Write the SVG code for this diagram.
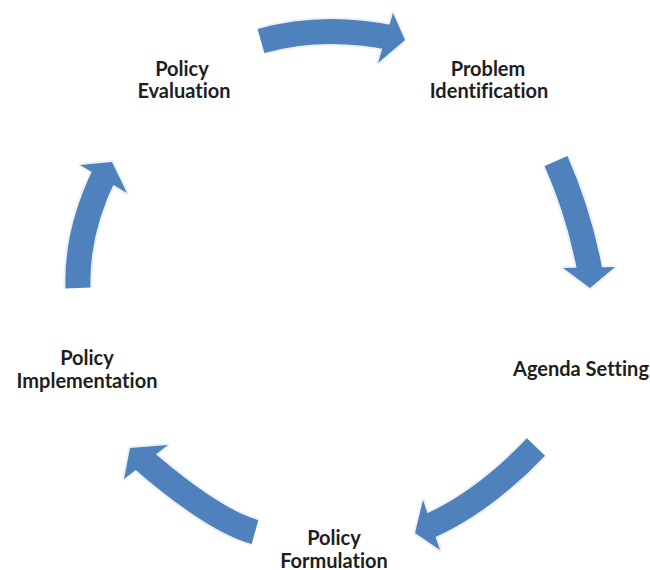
<svg xmlns="http://www.w3.org/2000/svg" width="650" height="570" viewBox="0 0 650 570">
  <style>
    .lbl { font-family: Lato, "Liberation Sans", Arial, sans-serif; font-weight: bold; font-size: 20px; fill: #1e1e1e; text-anchor: middle; font-variant-ligatures: none; }
    .body { fill: none; stroke: #4F81BD; stroke-width: 25; stroke-linecap: butt; }
    .head { fill: #4F81BD; }
    .halo { fill: none; stroke: #edf1f6; stroke-width: 29; stroke-linecap: butt; }
    .halohead { fill: #edf1f6; stroke: #edf1f6; stroke-width: 4; stroke-linejoin: round; }
  </style>
  <rect width="650" height="570" fill="#ffffff"/>

  <!-- curved arrows of the cycle -->
  <g id="connectors">
    <!-- Evaluation -> Problem Identification -->
    <g id="arrow-top">
      <path class="halo" d="M261,41 Q323,23.5 393,38"/>
      <polygon class="halohead" points="393,13 405,40 378,63"/>
      <path class="body" d="M261,41 Q323,23.5 393,38"/>
      <polygon class="head" points="393,13 405,40 378,63"/>
    </g>
    <!-- Problem Identification -> Agenda Setting -->
    <g id="arrow-right">
      <path class="halo" d="M556,161 Q579.5,214 590.5,274"/>
      <polygon class="halohead" points="563,268 590,288 615,267"/>
      <path class="body" d="M556,161 Q579.5,214 590.5,274"/>
      <polygon class="head" points="563,268 590,288 615,267"/>
    </g>
    <!-- Agenda Setting -> Policy Formulation -->
    <g id="arrow-bottom-right">
      <path class="halo" d="M536,447 Q481.5,504 425,528"/>
      <polygon class="halohead" points="423,500 415,533 440,550"/>
      <path class="body" d="M536,447 Q481.5,504 425,528"/>
      <polygon class="head" points="423,500 415,533 440,550"/>
    </g>
    <!-- Policy Formulation -> Policy Implementation -->
    <g id="arrow-bottom-left">
      <path class="halo" d="M255,532 Q213,520.5 141,458"/>
      <polygon class="halohead" points="124,479 130,448 168,445"/>
      <path class="body" d="M255,532 Q213,520.5 141,458"/>
      <polygon class="head" points="124,479 130,448 168,445"/>
    </g>
    <!-- Policy Implementation -> Policy Evaluation -->
    <g id="arrow-left">
      <path class="halo" d="M78,288 Q76,232 105,173"/>
      <polygon class="halohead" points="80,165 112,162 127,193"/>
      <path class="body" d="M78,288 Q76,232 105,173"/>
      <polygon class="head" points="80,165 112,162 127,193"/>
    </g>
  </g>

  <!-- stages -->
  <g id="problem-identification">
    <text class="lbl" x="488" y="76">Problem</text>
    <text class="lbl" x="489" y="98">Identification</text>
  </g>
  <g id="agenda-setting">
    <text class="lbl" x="581" y="376">Agenda Setting</text>
  </g>
  <g id="policy-formulation">
    <text class="lbl" x="334" y="545">Policy</text>
    <text class="lbl" x="334" y="568">Formulation</text>
  </g>
  <g id="policy-implementation">
    <text class="lbl" x="87" y="365">Policy</text>
    <text class="lbl" x="87" y="388">Implementation</text>
  </g>
  <g id="policy-evaluation">
    <text class="lbl" x="182" y="76">Policy</text>
    <text class="lbl" x="184" y="98">Evaluation</text>
  </g>
</svg>
